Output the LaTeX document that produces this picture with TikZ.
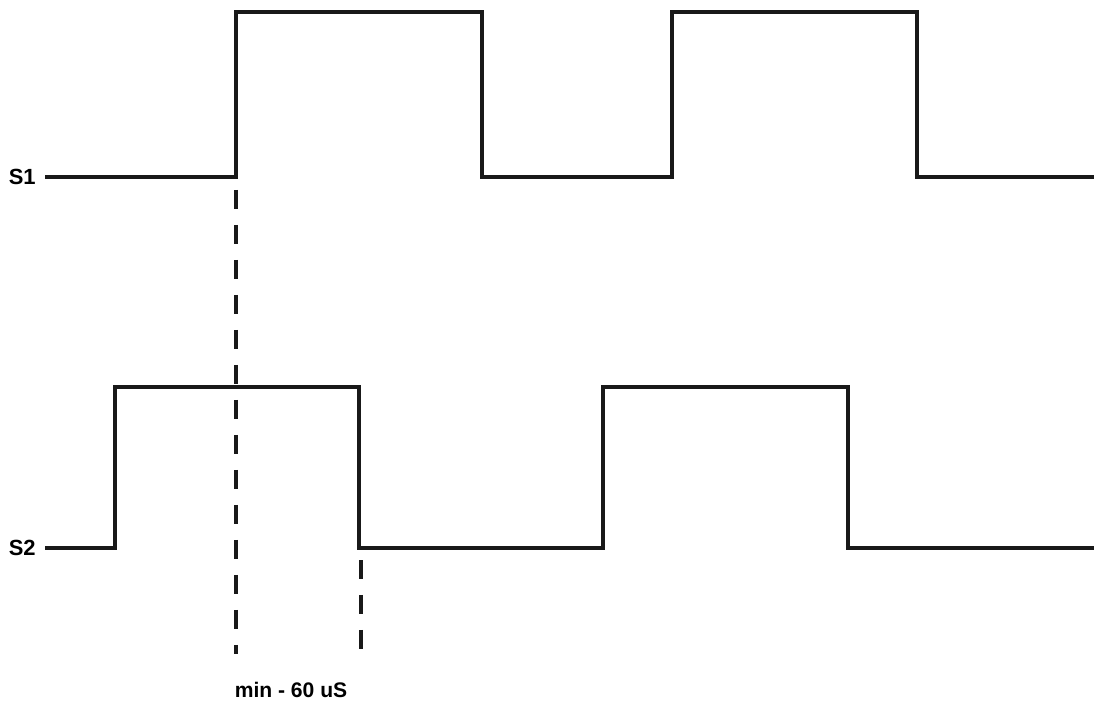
\documentclass[tikz,border=0pt]{standalone}
\usepackage{fontspec}
\setmainfont{Liberation Sans}
\usetikzlibrary{calc}

\begin{document}
\begin{tikzpicture}[x=0.02cm, y=-0.02cm,
        wave/.style={line width=2.6pt, line join=miter, color=black!90},
        guide/.style={line width=2pt, color=black!90, dash pattern=on 0.38cm off 0.32cm},
        sig/.style={font=\fontsize{12.5}{14}\selectfont\bfseries, anchor=east, inner sep=0pt}]
            \useasboundingbox (0,0) rectangle (1094,705);
            % signal levels
            \coordinate (S1lo) at (45,177);
            \coordinate (S2lo) at (45,548);
            \node[sig] (S1) at (36,177) {S1};
            \node[sig] (S2) at (36,548) {S2};
            % S1 waveform
            \coordinate (A) at (236,177);
            \coordinate (B) at (482,177);
            \coordinate (C) at (672,177);
            \coordinate (D) at (917,177);
            \draw[wave] (S1lo) -- (A) -- (236,12) -- (482,12) -- (B) -- (C)
                -- (672,12) -- (917,12) -- (D) -- (1094,177);
            % S2 waveform
            \coordinate (E) at (115,548);
            \coordinate (F) at (359,548);
            \coordinate (G) at (603,548);
            \coordinate (H) at (848,548);
            \draw[wave] (S2lo) -- (E) -- (115,387) -- (359,387) -- (F) -- (G)
                -- (603,387) -- (848,387) -- (H) -- (1094,548);
            % timing marks
            \coordinate (A') at (236,654);
            \coordinate (F') at (361,654);
            \draw[guide, dash phase=-0.26cm] (A) -- (A');
            \draw[guide, dash phase=-0.24cm] (361,548) -- (F');
            \node[font=\fontsize{12}{14}\selectfont\bfseries] (T) at (291,690) {min - 60 uS};
\end{tikzpicture}
\end{document}
